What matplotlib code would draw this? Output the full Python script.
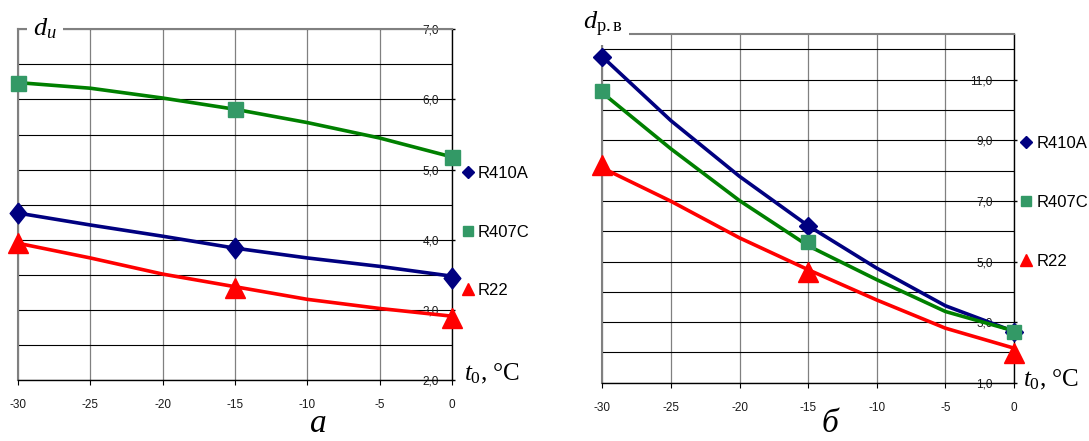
import numpy as np
import matplotlib.pyplot as plt
from matplotlib.lines import Line2D
from matplotlib.ticker import FixedLocator, NullFormatter

# температура кипения t0, C
t0 = [-30, -25, -20, -15, -10, -5, 0]
t0_mark = [-30, -15, 0]

# а) d_и
di_R410A = [4.38, 4.21, 4.05, 3.88, 3.74, 3.62, 3.48]
di_R407C = [6.24, 6.16, 6.02, 5.86, 5.67, 5.45, 5.18]
di_R22 = [3.95, 3.74, 3.51, 3.33, 3.15, 3.02, 2.91]
di_R410A_mark = [4.38, 3.88, 3.46]
di_R407C_mark = [6.24, 5.86, 5.18]
di_R22_mark = [3.96, 3.31, 2.88]

# б) d_р.в
dr_R410A = [11.76, 9.65, 7.81, 6.18, 4.78, 3.54, 2.69]
dr_R407C = [10.57, 8.72, 7.01, 5.52, 4.40, 3.35, 2.71]
dr_R22 = [8.09, 6.99, 5.78, 4.73, 3.73, 2.80, 2.14]
dr_R410A_mark = [11.76, 6.18, 2.69]
dr_R407C_mark = [10.62, 5.64, 2.68]
dr_R22_mark = [8.17, 4.67, 1.97]

names = ['R410A', 'R407C', 'R22']
line_col = ['#000080', '#008000', '#ff0000']
mark_col = ['#000080', '#339966', '#ff0000']

plt.rcParams['mathtext.fontset'] = 'custom'
plt.rcParams['mathtext.rm'] = 'Liberation Serif'
plt.rcParams['mathtext.it'] = 'Liberation Serif:italic'

tick_font = ['Liberation Sans', 'DejaVu Sans']
tall_diamond = [(0, 1.25), (1, 0), (0, -1.25), (-1, 0), (0, 1.25)]

fig = plt.figure(figsize=(10.89, 4.41), dpi=100)
W, H = 1089.0, 441.0


def make_axes(x0, x1, ytop, ybot):
    return fig.add_axes([x0 / W, 1 - ybot / H, (x1 - x0) / W, (ybot - ytop) / H])


def style_axes(ax, ylim, majors, minors, ypad):
    ax.set_xlim(-30, 0)
    ax.set_ylim(*ylim)
    ax.set_xticks(t0)
    ax.set_xticklabels([str(v) for v in t0], family=tick_font, fontsize=8.5, color='#1a1a1a')
    ax.yaxis.tick_right()
    ax.set_yticks(majors)
    ax.set_yticklabels([('%.1f' % v).replace('.', ',') for v in majors],
                       family=tick_font, fontsize=8.5, color='#1a1a1a')
    for lab in ax.get_yticklabels():
        lab.set_horizontalalignment('right')
    ax.yaxis.set_minor_locator(FixedLocator(minors))
    ax.yaxis.set_minor_formatter(NullFormatter())
    ax.tick_params(axis='y', which='major', direction='out', length=2.2, width=1.0, pad=-ypad)
    ax.tick_params(axis='y', which='minor', length=0)
    ax.tick_params(axis='x', direction='out', length=3.6, width=0.8, pad=10, color='black')
    ax.grid(axis='y', which='both', color='black', lw=0.8)
    ax.grid(axis='x', color='#808080', lw=0.9)
    ax.set_axisbelow(True)
    for s in ['left', 'top']:
        ax.spines[s].set_color('#808080')
        ax.spines[s].set_linewidth(1.5)
    for s in ['right', 'bottom']:
        ax.spines[s].set_color('black')
        ax.spines[s].set_linewidth(1.0)


def draw_series(ax, lines, marks, ms_list, diamond):
    mk = [diamond, 's', '^']
    for i in range(3):
        ax.plot(t0, lines[i], color=line_col[i], lw=2.6, zorder=3, clip_on=False)
        ax.plot(t0_mark, marks[i], ls='none', marker=mk[i], ms=ms_list[i],
                color=mark_col[i], mec=mark_col[i], zorder=4, clip_on=False)


def add_legend(ax, x, y, spacing):
    handles = [Line2D([], [], ls='none', marker='D', ms=6.2, color=mark_col[0]),
               Line2D([], [], ls='none', marker='s', ms=7.7, color=mark_col[1]),
               Line2D([], [], ls='none', marker='^', ms=9, color=mark_col[2])]
    ax.legend(handles, names, loc='center left', bbox_to_anchor=(x, y), frameon=False,
              handlelength=0.8, handletextpad=0.2, labelspacing=spacing,
              borderaxespad=0, borderpad=0,
              prop={'family': ['Liberation Sans', 'DejaVu Sans'], 'size': 12})


# --- а ---
ax1 = make_axes(18, 452, 29.3, 380)
style_axes(ax1, (2, 7), [2, 3, 4, 5, 6, 7], [2.5, 3.5, 4.5, 5.5, 6.5], 11.5)
draw_series(ax1, [di_R410A, di_R407C, di_R22],
            [di_R410A_mark, di_R407C_mark, di_R22_mark], [15, 10.8, 14], tall_diamond)
add_legend(ax1, 1.021, 0.422, 2.6)

# --- б ---
ax2 = make_axes(602.3, 1014, 34.3, 382.7)
style_axes(ax2, (1, 12.5), [1, 3, 5, 7, 9, 11], [2, 4, 6, 8, 10, 12], 17.5)
draw_series(ax2, [dr_R410A, dr_R407C, dr_R22],
            [dr_R410A_mark, dr_R407C_mark, dr_R22_mark], [9.2, 10.5, 14], 'D')
add_legend(ax2, 1.0136, 0.518, 2.65)

serif = ['Liberation Serif', 'DejaVu Serif']
fig.text(33 / W, 1 - 35 / H, r'$d_{и}$', fontsize=19, family=serif, va='baseline',
         bbox=dict(fc='white', ec='none', pad=4.5))
fig.text(583 / W, 1 - 29 / H, r'$d_{\mathrm{р.в}}$', fontsize=19, family=serif, va='baseline',
         bbox=dict(fc='white', ec='none', pad=4.5))
fig.text(464 / W, 1 - 380 / H, r'$t_{\mathrm{0}}$, °C', fontsize=18, family=serif, va='baseline')
fig.text(1023 / W, 1 - 386 / H, r'$t_{\mathrm{0}}$, °C', fontsize=18, family=serif, va='baseline')
fig.text(318 / W, 1 - 432 / H, 'а', fontsize=24, family=serif, style='italic',
         ha='center', va='baseline')
fig.text(830 / W, 1 - 432 / H, 'б', fontsize=24, family=serif, style='italic',
         ha='center', va='baseline')

fig.savefig('out.png', dpi=100)
